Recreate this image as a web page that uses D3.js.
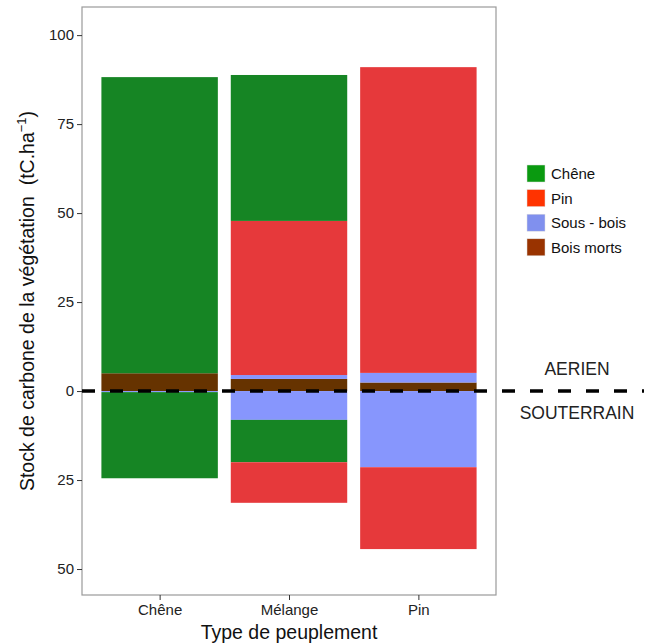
<!DOCTYPE html>
<html>
<head>
<meta charset="utf-8">
<script src="https://cdn.jsdelivr.net/npm/d3@7"></script>
<style>
  body { margin: 0; background: #fff; }
  text { font-family: "Liberation Sans", Arial, sans-serif; }
</style>
</head>
<body>
<div id="chart"></div>
<script>
// Types de peuplement (x axis)
const categories = ["Chêne", "Mélange", "Pin"];

// Compartiments (legend order)
const compartments = ["Chêne", "Pin", "Sous - bois", "Bois morts"];

// Stock aérien (tC/ha), per peuplement
const aerienChene = [83.2, 41.0, 0];
const aerienPin = [0, 43.3, 85.9];
const aerienSousBois = [0, 1.1, 2.7];
const aerienBoisMorts = [5.0, 3.4, 2.4];

// Stock souterrain (tC/ha), drawn below zero
const souterrainChene = [24.2, 11.9, 0];
const souterrainPin = [0, 11.4, 23.0];
const souterrainSousBois = [0.3, 8.1, 21.4];

const yTicks = [100, 75, 50, 25, 0, -25, -50];

const barColors = {"Chêne": "#168524", "Pin": "#e6393b", "Sous - bois": "#8796fd", "Bois morts": "#663300"};
const keyColors = {"Chêne": "#0a9a10", "Pin": "#ff3300", "Sous - bois": "#8090ee", "Bois morts": "#993300"};

const width = 648, height = 644;
const panel = {left: 82, right: 496, top: 7, bottom: 595};

const svg = d3.select("#chart").append("svg")
  .attr("width", width)
  .attr("height", height);

// ggplot-like discrete scale: 0.6 expansion on each side
const x = d3.scaleLinear()
  .domain([0.4, 3.6])
  .range([panel.left, panel.right]);
const barW = x(0.9) - x(0);

const y = d3.scaleLinear()
  .domain([-57.3, 107.9])
  .range([panel.bottom, panel.top]);

// build rows
const rows = categories.map((c, i) => ({
  type: c,
  a: {"Chêne": aerienChene[i], "Pin": aerienPin[i], "Sous - bois": aerienSousBois[i], "Bois morts": aerienBoisMorts[i]},
  s: {"Chêne": souterrainChene[i], "Pin": souterrainPin[i], "Sous - bois": souterrainSousBois[i]}
}));

const stackAbove = d3.stack()
  .keys(["Bois morts", "Sous - bois", "Pin", "Chêne"])
  .value((d, k) => d.a[k]);
const stackBelow = d3.stack()
  .keys(["Sous - bois", "Chêne", "Pin"])
  .value((d, k) => -d.s[k])
  .offset(d3.stackOffsetDiverging);

const layers = stackAbove(rows).concat(stackBelow(rows));

svg.append("g")
  .selectAll("g")
  .data(layers)
  .join("g")
  .attr("fill", d => barColors[d.key])
  .selectAll("rect")
  .data(d => d)
  .join("rect")
  .attr("x", (d, i) => x(i + 1) - barW / 2)
  .attr("width", barW)
  .attr("y", d => y(Math.max(d[0], d[1])))
  .attr("height", d => Math.abs(y(d[0]) - y(d[1])));

// panel border
svg.append("rect")
  .attr("x", panel.left)
  .attr("y", panel.top)
  .attr("width", panel.right - panel.left)
  .attr("height", panel.bottom - panel.top)
  .attr("fill", "none")
  .attr("stroke", "#9a9a9a")
  .attr("stroke-width", 1.2);

// y axis
const yAxis = d3.axisLeft(y)
  .tickValues(yTicks)
  .tickFormat(d => Math.abs(d))
  .tickSize(5)
  .tickPadding(3);
const gy = svg.append("g")
  .attr("transform", `translate(${panel.left},0)`)
  .call(yAxis);
gy.select(".domain").remove();
gy.selectAll("line").attr("stroke", "#333");
gy.selectAll("text").attr("font-size", 15).attr("fill", "#222");

// x axis
const xAxis = d3.axisBottom(x)
  .tickValues([1, 2, 3])
  .tickFormat(d => categories[d - 1])
  .tickSize(5)
  .tickPadding(4);
const gx = svg.append("g")
  .attr("transform", `translate(0,${panel.bottom})`)
  .call(xAxis);
gx.select(".domain").remove();
gx.selectAll("line").attr("stroke", "#333");
gx.selectAll("text").attr("font-size", 15).attr("fill", "#222");

// zero dashed line
svg.append("line")
  .attr("x1", panel.left)
  .attr("x2", 644)
  .attr("y1", y(0))
  .attr("y2", y(0))
  .attr("stroke", "#000")
  .attr("stroke-width", 3.5)
  .attr("stroke-dasharray", "13,15");

// aérien / souterrain labels
svg.append("text")
  .attr("x", 577).attr("y", y(0) - 16)
  .attr("text-anchor", "middle")
  .attr("font-size", 17.5).attr("fill", "#222")
  .text("AERIEN");
svg.append("text")
  .attr("x", 577).attr("y", y(0) + 28)
  .attr("text-anchor", "middle")
  .attr("font-size", 17.5).attr("fill", "#222")
  .text("SOUTERRAIN");

// axis titles
svg.append("text")
  .attr("x", (panel.left + panel.right) / 2)
  .attr("y", 639)
  .attr("text-anchor", "middle")
  .attr("font-size", 19.5)
  .attr("fill", "#111")
  .text("Type de peuplement");

const yt = svg.append("text")
  .attr("transform", `translate(34,${(panel.top + panel.bottom) / 2}) rotate(-90)`)
  .attr("text-anchor", "middle")
  .attr("font-size", 19.5)
  .attr("fill", "#111");
yt.append("tspan").text("Stock de carbone de la végétation\u00a0\u00a0(tC.ha");
yt.append("tspan").attr("dy", -8).attr("font-size", 13).text("\u22121");
yt.append("tspan").attr("dy", 8).text(")");

// legend
const legend = svg.append("g")
  .attr("transform", "translate(527,165)")
  .selectAll("g")
  .data(compartments)
  .join("g")
  .attr("transform", (d, i) => `translate(0,${i * 24.6})`);
legend.append("rect")
  .attr("width", 18)
  .attr("height", 17)
  .attr("fill", d => keyColors[d])
  .attr("stroke", "#ddd")
  .attr("stroke-width", 0.5);
legend.append("text")
  .attr("x", 24)
  .attr("y", 14)
  .attr("font-size", 15)
  .attr("fill", "#111")
  .text(d => d);
</script>
</body>
</html>
